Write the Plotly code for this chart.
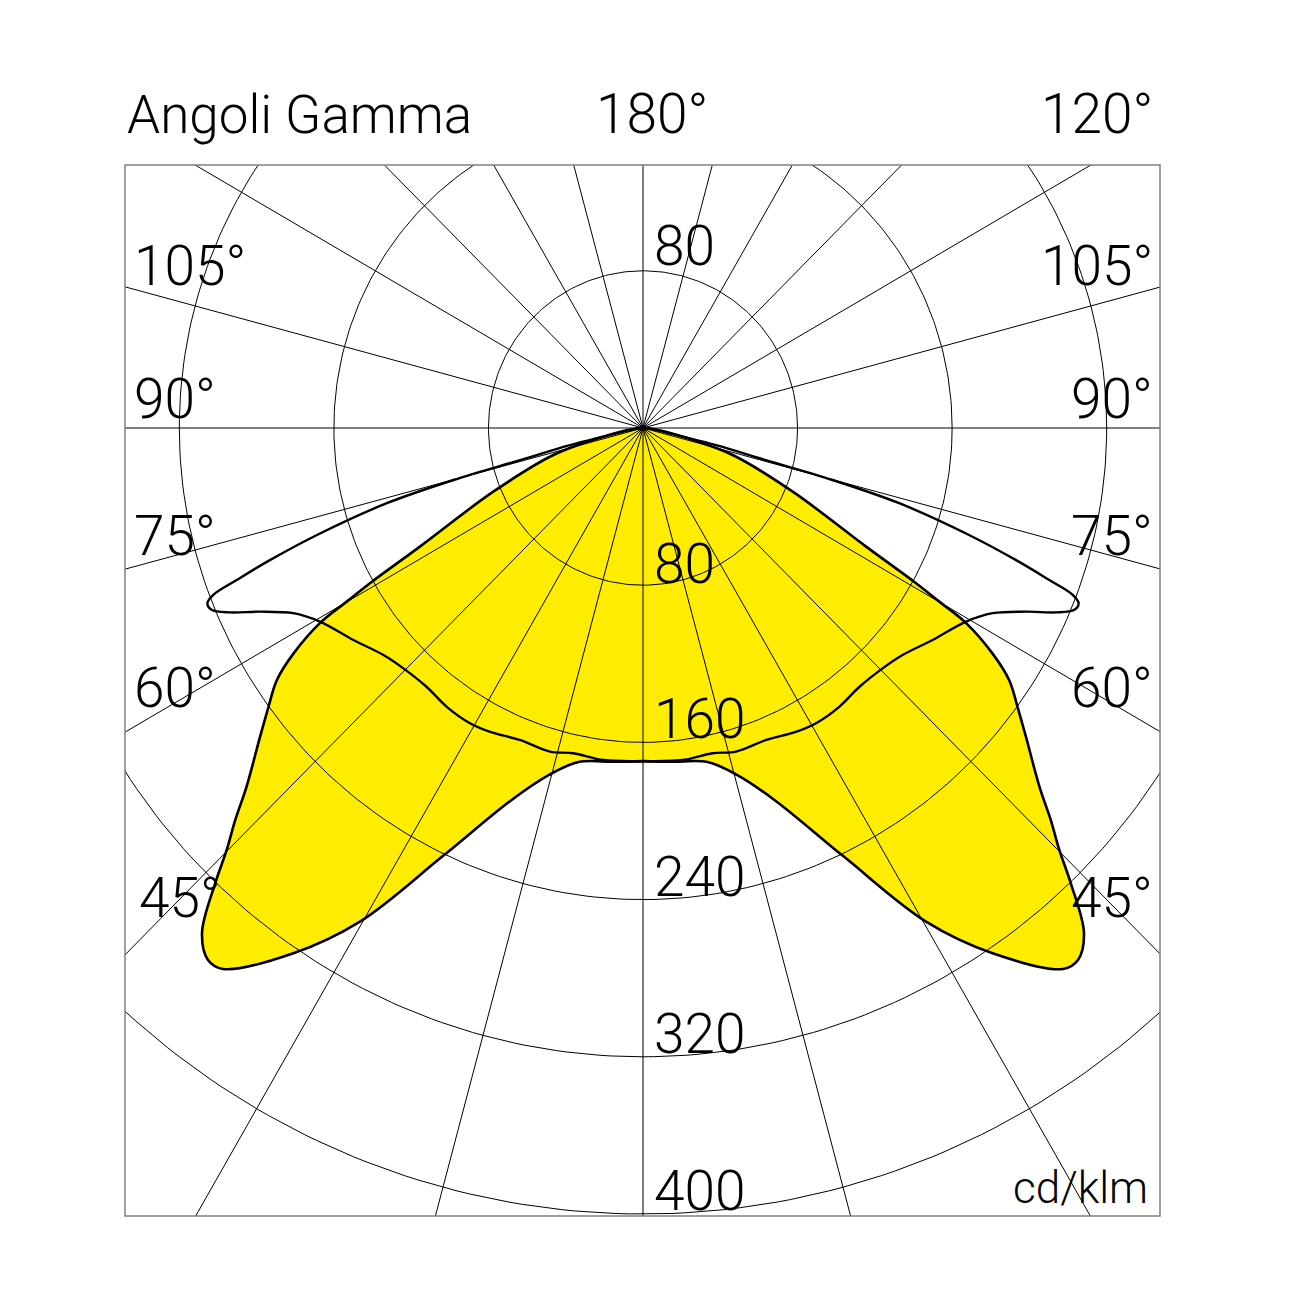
import numpy as np
import plotly.graph_objects as go

# ---- data ----
# Gamma angle in degrees (0 = straight down); both curves are symmetric, one half given (cd/klm)
gamma_c0 = [0, 5, 11.1, 15.4, 19.8, 25.5, 30.25, 34.1, 38.3, 39.75, 41.6, 43.7, 45.1, 46.6, 48.35,
            51.6, 53.8, 55.9, 57.6, 59.3, 60.05, 60.8, 62.4, 67.3, 73.5, 77.9, 84, 90]
int_c0 = [169.7, 170.5, 173.2, 183.1, 201.3, 241.8, 290.8, 322.8, 350.8, 352.1, 343.8, 320.5, 304.2, 290.5, 274.6,
          252.9, 240.2, 228.9, 214.3, 194.5, 177.0, 161.9, 130.3, 84.0, 48.4, 21.0, 5, 0]

gamma_c90 = [0, 6.9, 12.3, 16.3, 21.9, 27.1, 30.8, 35.6, 40.4, 45.4, 49.3, 54.25, 59.5, 62.5, 64.75,
             66.3, 67.5, 68.4, 69.1, 69.8, 70.8, 72.2, 73.9, 74.9, 75.6, 77.0, 77.9, 84, 90]
int_c90 = [169.5, 170.2, 169.4, 171.6, 171.1, 173.7, 174.9, 174.5, 172.9, 174.2, 177.2, 184.7, 194.1, 204.1, 219.1,
           233.5, 241.7, 242.5, 238.1, 224.1, 204.5, 175.6, 138.0, 101.6, 65.7, 38.8, 21.0, 4, 0]

radial_ticks = [80, 160, 240, 320, 400]
spoke_angles = list(range(0, 360, 15))
angle_labels = ["105°", "90°", "75°", "60°", "45°"]

# ---- layout geometry (page pixels; the page body adds an 8 px offset) ----
OFF = 8
W = H = 1302 - OFF
L, R_, T, B = 125 - OFF, 1160 - OFF, 165 - OFF, 1216 - OFF
CX, CY = 643 - OFF, 428 - OFF
SX, SY = 1.932, 1.965  # px per cd/klm (horizontal, vertical)

xr = [(L - CX) / SX, (R_ - CX) / SX]
yr = [-(B - CY) / SY, (CY - T) / SY]


def full_curve(g, r):
    g = np.array(g, float)
    r = np.array(r, float)
    gg = np.concatenate([-g[::-1], g[1:]])
    rr = np.concatenate([r[::-1], r[1:]])
    t = np.radians(gg)
    return rr * np.sin(t), -rr * np.cos(t)


x0, y0 = full_curve(gamma_c0, int_c0)
x9, y9 = full_curve(gamma_c90, int_c90)

fig = go.Figure()
YELLOW = "#FFED00"

fig.add_trace(go.Scatter(x=x0, y=y0, mode="lines", fill="toself", fillcolor=YELLOW,
                         line=dict(width=0, shape="spline", color=YELLOW), hoverinfo="skip"))

# circles
cx, cy = [], []
th = np.radians(np.arange(0, 361, 1))
for rr in radial_ticks:
    cx += list(rr * np.cos(th)) + [None]
    cy += list(rr * np.sin(th)) + [None]
fig.add_trace(go.Scatter(x=cx, y=cy, mode="lines", line=dict(color="black", width=1), hoverinfo="skip"))

# spokes
sx, sy = [], []
for a in spoke_angles:
    t = np.radians(a)
    sx += [0, 1000 * np.sin(t), None]
    sy += [0, -1000 * np.cos(t), None]
fig.add_trace(go.Scatter(x=sx, y=sy, mode="lines", line=dict(color="black", width=1), hoverinfo="skip"))

fig.add_trace(go.Scatter(x=x0, y=y0, mode="lines", line=dict(color="black", width=2.6, shape="spline"),
                         hoverinfo="skip"))
fig.add_trace(go.Scatter(x=x9, y=y9, mode="lines", line=dict(color="black", width=2.4, shape="spline"),
                         hoverinfo="skip"))

FONT = "Roboto, Liberation Sans, Arial, sans-serif"


def ann(text, px, baseline, anchor, fs=55):
    px -= OFF
    baseline -= OFF
    mid = baseline - 0.345 * fs
    fig.add_annotation(text=text, x=(px - L) / (R_ - L), y=(B - mid) / (B - T), xref="paper", yref="paper",
                       xanchor=anchor, yanchor="middle", showarrow=False,
                       font=dict(family=FONT, size=fs, color="black", weight=300))


ann("Angoli Gamma", 125, 133, "left", fs=53)
ann("180°", 652, 133, "center")
ann("120°", 1155, 133, "right")
ang_baselines = [285, 418, 555, 707, 917]
for lab, bl in zip(angle_labels, ang_baselines):
    ann(lab, 132 if lab != "45°" else 137, bl, "left")
    ann(lab, 1155, bl, "right")
ann("80", 652, 265, "left")
rad_baselines = [583, 738, 896, 1053, 1210]
for v, bl in zip(radial_ticks, rad_baselines):
    ann(str(v), 652, bl, "left")
ann("cd/klm", 1150, 1203, "right", fs=44)

fig.add_shape(type="rect", xref="paper", yref="paper", x0=0, x1=1, y0=0, y1=1,
              line=dict(color="#808080", width=1.5), layer="above")

fig.update_layout(width=W, height=H, autosize=False,
                  margin=dict(l=L, r=W - R_, t=T, b=H - B, pad=0),
                  paper_bgcolor="white", plot_bgcolor="white", showlegend=False)
fig.update_xaxes(range=xr, visible=False, showgrid=False, zeroline=False, fixedrange=True)
fig.update_yaxes(range=yr, visible=False, showgrid=False, zeroline=False, fixedrange=True)

fig.write_html("out.html")
